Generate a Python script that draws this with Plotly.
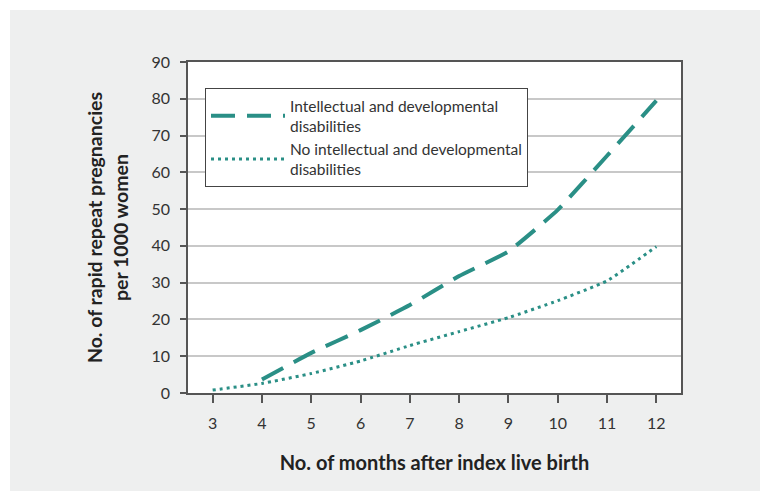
import plotly.graph_objects as go

months_idd = [4, 5, 6, 7, 8, 9, 10, 11, 12]
rate_idd = [3.7, 10.9, 17.1, 23.9, 31.8, 38.5, 49.8, 64.5, 79.5]

months_no_idd = [3, 4, 5, 6, 7, 8, 9, 10, 11, 12]
rate_no_idd = [0.8, 2.6, 5.3, 8.7, 12.9, 16.7, 20.5, 25.1, 30.5, 39.8]

x_ticks = [3, 4, 5, 6, 7, 8, 9, 10, 11, 12]
y_ticks = [0, 10, 20, 30, 40, 50, 60, 70, 80, 90]

label_idd = "Intellectual and developmental<br>disabilities"
label_no_idd = "No intellectual and developmental<br>disabilities"

TEAL = "#2a8f86"
FONT = "Lato"

fig = go.Figure()
fig.add_trace(go.Scatter(
    x=months_idd, y=rate_idd, mode="lines", name=label_idd,
    line=dict(color=TEAL, width=4, dash="24px,12px", shape="spline", smoothing=0.4),
))
fig.add_trace(go.Scatter(
    x=months_no_idd, y=rate_no_idd, mode="lines", name=label_no_idd,
    line=dict(color=TEAL, width=3, dash="3px,4px", shape="spline", smoothing=0.4),
))

# page body has an 8px default margin; the figure is sized to fit the window
OFF = 8
W, H = 770 - OFF, 501 - OFF
L, R, T, B = 188 - OFF, 89, 62 - OFF, 108
pw, ph = W - L - R, H - T - B

def px_to_paper_x(px):
    return (px - OFF - L) / pw

def px_to_paper_y(py):
    return (H - B - (py - OFF)) / ph

fig.add_shape(type="rect", xref="paper", yref="paper", layer="below",
              x0=px_to_paper_x(10), x1=px_to_paper_x(760),
              y0=px_to_paper_y(491), y1=px_to_paper_y(10),
              fillcolor="#eeefef", line=dict(width=0))
fig.add_shape(type="rect", xref="paper", yref="paper", layer="below",
              x0=0, x1=1, y0=0, y1=1,
              fillcolor="white", line=dict(width=0))

fig.update_layout(
    width=W, height=H,
    margin=dict(l=L, r=R, t=T, b=B, autoexpand=False),
    paper_bgcolor="white", plot_bgcolor="white",
    font=dict(family=FONT, color="#333333", size=16),
    showlegend=True,
    legend=dict(
        x=px_to_paper_x(205), y=px_to_paper_y(88), xanchor="left", yanchor="top",
        bordercolor="#444444", borderwidth=1, bgcolor="white",
        font=dict(family=FONT, size=15.5, color="#333333"),
        itemwidth=74, tracegroupgap=0,
    ),
    xaxis=dict(
        range=[2.5, 12.5], tickvals=x_ticks, ticktext=[str(v) for v in x_ticks],
        showgrid=False, zeroline=False,
        showline=True, linecolor="#555555", linewidth=1.5, mirror=True,
        ticks="outside", ticklen=8, tickcolor="#555555", tickwidth=1.5,
        ticklabelstandoff=7,
        tickfont=dict(family=FONT, size=16, color="#333333"),
        title=dict(text="<b>No. of months after index live birth</b>",
                   font=dict(family=FONT, size=20, color="#222222"), standoff=25),
    ),
    yaxis=dict(
        range=[0, 90], tickvals=y_ticks,
        showgrid=True, gridcolor="#c8c8c8", gridwidth=1.5, zeroline=False,
        showline=True, linecolor="#555555", linewidth=1.5, mirror=True,
        ticks="outside", ticklen=6, tickcolor="#555555", tickwidth=1.5,
        ticklabelstandoff=7,
        tickfont=dict(family=FONT, size=16, color="#333333"),
        title=dict(text="<b>No. of rapid repeat pregnancies<br>per 1000 women</b>",
                   font=dict(family=FONT, size=19.5, color="#222222"), standoff=18),
    ),
)

fig.write_html("out.html")
